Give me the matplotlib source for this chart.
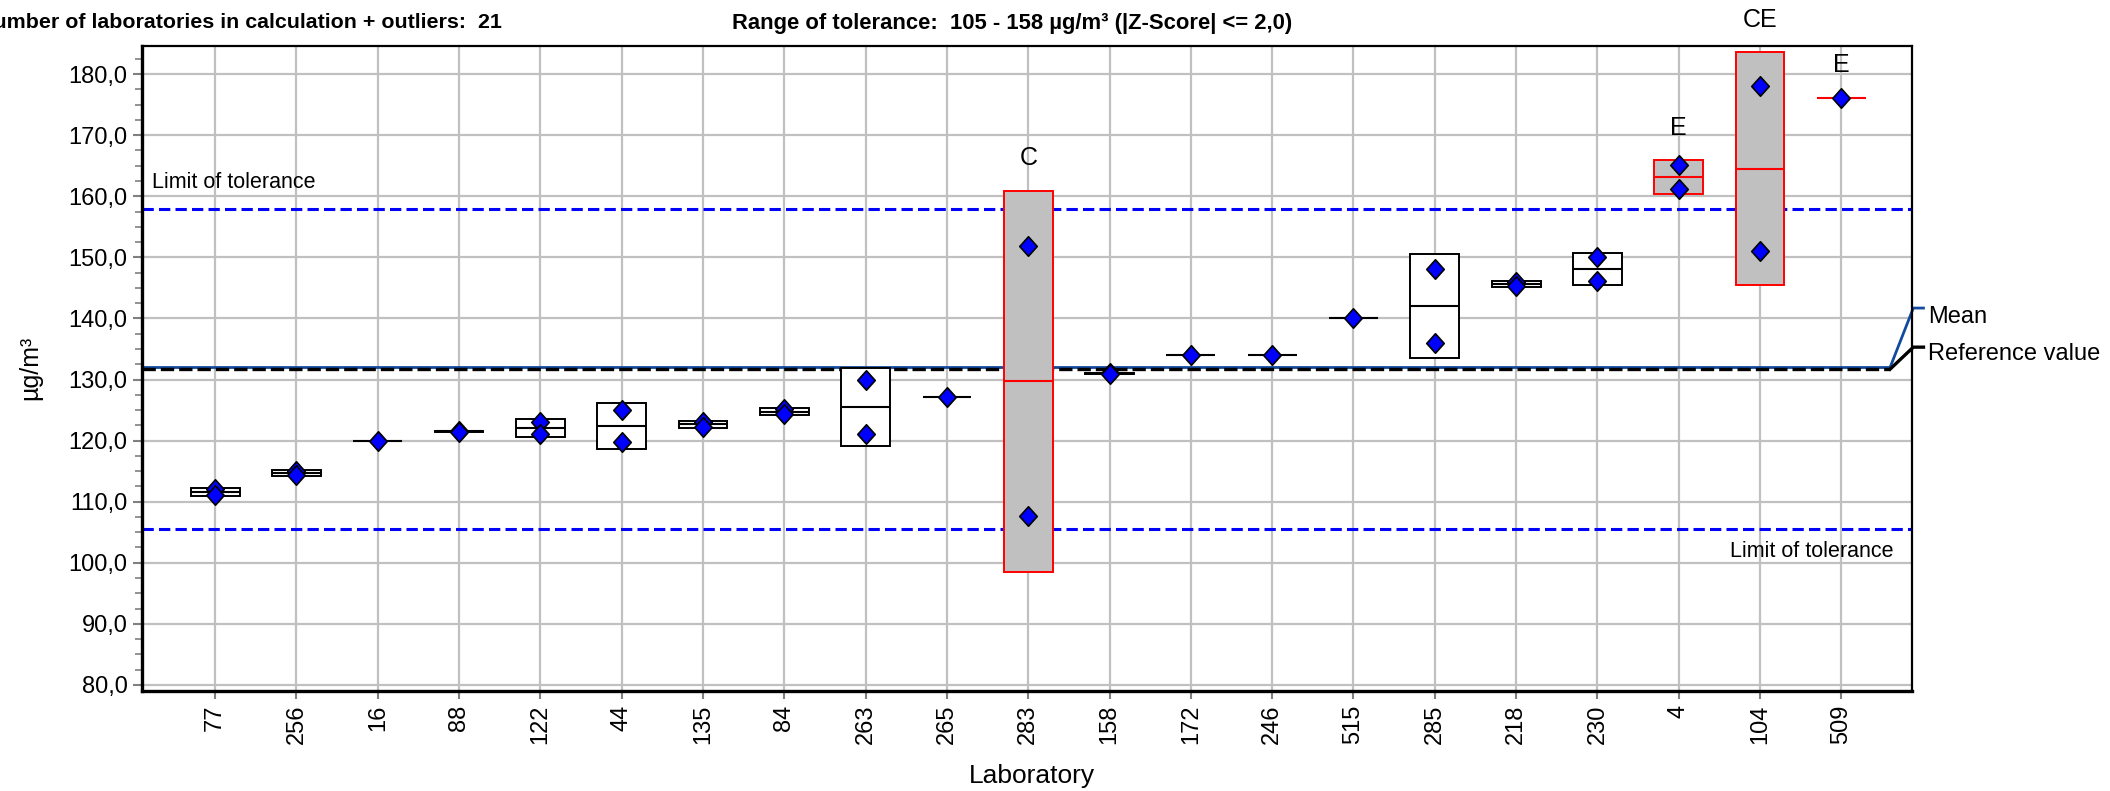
"""
Proficiency test chart: laboratory results with mean +- SD boxes,
tolerance limits, mean and reference value.
"""

import matplotlib
matplotlib.use("Agg")
import matplotlib.pyplot as plt
from matplotlib.patches import Rectangle
from matplotlib.path import Path as MPath
from matplotlib.ticker import MultipleLocator, FuncFormatter
import numpy as np

plt.rcParams["font.family"] = ["Liberation Sans", "DejaVu Sans"]

# --- data --------------------------------------------------------------
LABS = ["77", "256", "16", "88", "122", "44", "135", "84", "263", "265", "283",
        "158", "172", "246", "515", "285", "218", "230", "4", "104", "509"]
REP1 = [112.0, 115.0, 120.0, 121.6, 123.1, 125.0, 123.1, 125.1, 130.0, 127.1, 151.8,
        131.1, 134.0, 134.0, 140.0, 148.1, 146.0, 150.0, 165.1, 178.0, 176.1]
REP2 = [111.1, 114.4, None, 121.4, 121.0, 119.7, 122.3, 124.3, 121.0, None, 107.7,
        130.9, None, None, None, 136.0, 145.3, 146.2, 161.2, 151.0, None]
FLAGS = ["", "", "", "", "", "", "", "", "", "", "C",
         "", "", "", "", "", "", "", "E", "CE", "E"]

MEAN = 132.0
REF_VALUE = 131.7
LIMIT_LO = 105.5
LIMIT_HI = 158.0
TOL_TEXT = "105 - 158"
N_LABS = 21

# --- style ----------------------------------------------------------------
GRID = "#c0c0c0"
TICK = "#808080"
BLUE = "#0000ff"
MEAN_C = "#114a9e"
OUT_FILL = "#c0c0c0"
RED = "#ff0000"
W = 0.3  # half box width

DIAMOND = MPath([(0, 1), (0.9, 0), (0, -1), (-0.9, 0), (0, 1)],
                [MPath.MOVETO, MPath.LINETO, MPath.LINETO, MPath.LINETO, MPath.CLOSEPOLY])


def main():
    fig = plt.figure(figsize=(21.1, 7.91), dpi=100)
    ax = fig.add_axes([0.0673, 0.1264, 0.8389, 0.8154])

    ax.set_xlim(-0.9, 20.87)
    ax.set_ylim(79.0, 184.6)
    ax.set_axisbelow(True)

    # grid
    ax.yaxis.set_major_locator(MultipleLocator(10))
    ax.yaxis.set_minor_locator(MultipleLocator(2.5))
    ax.yaxis.set_major_formatter(FuncFormatter(lambda v, p: f"{v:.1f}".replace(".", ",")))
    ax.set_xticks(range(len(LABS)))
    ax.set_xticklabels(LABS, rotation=90, fontsize=17)
    ax.grid(True, which="major", color=GRID, linewidth=1.6, zorder=0)

    ax.tick_params(axis="both", which="major", direction="out", color=TICK,
                   width=1.5, labelsize=17, labelcolor="black")
    ax.tick_params(axis="x", which="major", length=6, pad=4)
    ax.tick_params(axis="y", which="major", length=6.5, pad=4)
    ax.tick_params(axis="y", which="minor", length=5, width=1.2, color=TICK)

    for side in ("left", "bottom"):
        ax.spines[side].set_linewidth(2.4)
    for side in ("top", "right"):
        ax.spines[side].set_linewidth(1.6)

    # tolerance limits
    for y in (LIMIT_LO, LIMIT_HI):
        ax.axhline(y, color=BLUE, linewidth=2.2, dashes=(3.7, 1.7), zorder=2)
    ax.text(-0.775, 162.3, "Limit of tolerance", fontsize=15.5, ha="left", va="center")
    ax.text(20.64, 101.8, "Limit of tolerance", fontsize=15.5, ha="right", va="center")

    # mean and reference value with leader lines to the labels
    x0 = ax.get_xlim()[0]
    ax.plot([x0, 20.6], [MEAN, MEAN], color=MEAN_C, linewidth=2.0, zorder=2)
    ax.plot([20.6, 20.885, 21.01], [MEAN, 141.7, 141.7], color=MEAN_C,
            linewidth=2.0, zorder=2, clip_on=False, solid_joinstyle="miter")
    ax.plot([x0, 20.6], [REF_VALUE, REF_VALUE], color="black", linewidth=2.4,
            dashes=(4, 1.5), zorder=2)
    ax.plot([20.6, 20.885, 21.01], [REF_VALUE, 135.3, 135.3], color="black",
            linewidth=2.4, zorder=2, clip_on=False, solid_joinstyle="miter")
    ax.text(21.07, 140.3, "Mean", fontsize=17, ha="left", va="center", clip_on=False)
    ax.text(21.07, 134.1, "Reference value", fontsize=17, ha="left", va="center",
            clip_on=False)

    # laboratory results
    for i, (a, b, flag) in enumerate(zip(REP1, REP2, FLAGS)):
        vals = np.array([a] if b is None else [a, b])
        edge = RED if flag else "black"
        m = vals.mean()
        top = m
        if len(vals) > 1:
            sd = vals.std(ddof=1)
            ax.add_patch(Rectangle((i - W, m - sd), 2 * W, 2 * sd,
                                   facecolor=OUT_FILL if flag else "white",
                                   edgecolor=edge, linewidth=1.4, zorder=3))
            top = m + sd
        ax.plot([i - W, i + W], [m, m], color=edge, linewidth=1.5, zorder=4,
                solid_capstyle="butt")
        ax.plot(np.full(len(vals), i), vals, linestyle="none", marker=DIAMOND,
                markersize=14, markerfacecolor=BLUE, markeredgecolor="black",
                markeredgewidth=1.2, zorder=5)
        if flag:
            ax.text(i, top + 4.2, flag, fontsize=18, ha="center", va="baseline",
                    clip_on=False)

    # labels
    fig.text(30 / 2110, 1 - 368 / 791, "µg/m³", rotation=90, fontsize=18,
             ha="center", va="center")
    fig.text(1032 / 2110, 1 - 776 / 791, "Laboratory", fontsize=19,
             ha="center", va="center")
    fig.text(502 / 2110, 1 - 23 / 791,
             f"Number of laboratories in calculation + outliers:  {N_LABS}",
             fontsize=15.4, fontweight="bold", ha="right", va="center")
    fig.text(732 / 2110, 1 - 23 / 791,
             f"Range of tolerance:  {TOL_TEXT} µg/m³ (|Z-Score| <= 2,0)",
             fontsize=15.8, fontweight="bold", ha="left", va="center")

    fig.savefig("out.png", dpi=100, facecolor="white")


if __name__ == "__main__":
    main()
